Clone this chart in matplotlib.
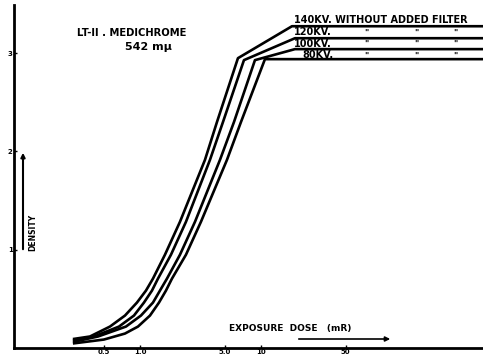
import matplotlib
matplotlib.use("Agg")
import matplotlib.pyplot as plt

W, H = 483, 357

# exposure dose (mR) and density, one pair of lists per tube voltage
dose_140 = [0.279, 0.386, 0.565, 0.752, 0.944, 1.121, 1.281, 1.609, 2.141, 3.445, 4.329, 6.455, 18.04, 684]
dens_140 = [0.091, 0.117, 0.218, 0.330, 0.462, 0.584, 0.706, 0.949, 1.284, 1.914, 2.299, 2.949, 3.274, 3.274]

dose_120 = [0.279, 0.417, 0.671, 0.892, 1.079, 1.257, 1.409, 1.804, 2.400, 3.789, 4.853, 7.236, 19.10, 684]
dens_120 = [0.076, 0.117, 0.218, 0.330, 0.462, 0.584, 0.706, 0.949, 1.284, 1.914, 2.299, 2.929, 3.152, 3.152]

dose_100 = [0.279, 0.450, 0.766, 1.019, 1.281, 1.463, 1.672, 2.141, 2.849, 4.584, 5.983, 8.920, 19.10, 684]
dens_100 = [0.061, 0.117, 0.218, 0.330, 0.462, 0.584, 0.706, 0.949, 1.284, 1.914, 2.299, 2.929, 3.041, 3.041]

dose_80 = [0.279, 0.504, 0.752, 0.963, 1.210, 1.436, 1.640, 1.839, 2.400, 3.192, 5.236, 6.834, 10.79, 684]
dens_80 = [0.046, 0.086, 0.147, 0.218, 0.330, 0.462, 0.584, 0.706, 0.949, 1.284, 1.914, 2.299, 2.939, 2.939]

x_ticks = [0.5, 1.0, 5.0, 10, 50]
x_tick_labels = ["0.5", "1.0", "5.0", "10", "50"]
y_ticks = [1, 2, 3]


def px(x, y):
    # pixel position -> figure fraction
    return x / W, 1 - y / H


fig = plt.figure(figsize=(W / 100, H / 100), dpi=100)
ax = fig.add_axes([14 / W, 9 / H, (W - 14) / W, 343 / H])

for d, v in [(dose_140, dens_140), (dose_120, dens_120),
             (dose_100, dens_100), (dose_80, dens_80)]:
    ax.plot(d, v, color="black", lw=1.9, solid_joinstyle="round", solid_capstyle="butt")

ax.set_xscale("log")
ax.set_xlim(0.091, 684)
ax.set_ylim(0, 3.49)
ax.spines["top"].set_visible(False)
ax.spines["right"].set_visible(False)
ax.spines["left"].set_linewidth(2)
ax.spines["bottom"].set_linewidth(2)

ax.set_xticks(x_ticks)
ax.set_xticklabels(x_tick_labels, fontsize=5, fontweight="bold")
ax.xaxis.set_minor_locator(plt.NullLocator())
ax.set_yticks(y_ticks)
ax.set_yticklabels([str(t) for t in y_ticks], fontsize=5, fontweight="bold")
ax.tick_params(axis="both", direction="in", length=2, width=1, pad=1)

txt = dict(fontweight="bold", color="black")
fig.text(*px(132, 33), "LT-II . MEDICHROME", fontsize=7.2, ha="center", va="center", **txt)
fig.text(*px(148, 47), "542 mμ", fontsize=8, ha="center", va="center", **txt)

fig.text(*px(294, 20), "140KV. WITHOUT ADDED FILTER", fontsize=7, ha="left", va="center", **txt)
fig.text(*px(294, 32), "120KV.", fontsize=7, ha="left", va="center", **txt)
fig.text(*px(294, 44), "100KV.", fontsize=7, ha="left", va="center", **txt)
fig.text(*px(302, 55), "80KV.", fontsize=7, ha="left", va="center", **txt)
for row in [33, 44, 56]:
    for xd in [366, 416, 455]:
        fig.text(*px(xd, row), '"', fontsize=6, ha="center", va="center", **txt)

fig.text(*px(290, 328), "EXPOSURE  DOSE   (mR)", fontsize=6.5, ha="center", va="center", **txt)
ax.annotate("", xy=px(393, 339), xytext=px(296, 339),
            xycoords="figure fraction", textcoords="figure fraction",
            arrowprops=dict(arrowstyle="-|>", color="black", lw=1.2, mutation_scale=7))

fig.text(*px(33, 232), "DENSITY", fontsize=5.5, rotation=90, ha="center", va="center", **txt)
ax.annotate("", xy=px(23, 150), xytext=px(23, 252),
            xycoords="figure fraction", textcoords="figure fraction",
            arrowprops=dict(arrowstyle="-|>", color="black", lw=1.5, mutation_scale=6))

fig.savefig("out.png", dpi=100)
